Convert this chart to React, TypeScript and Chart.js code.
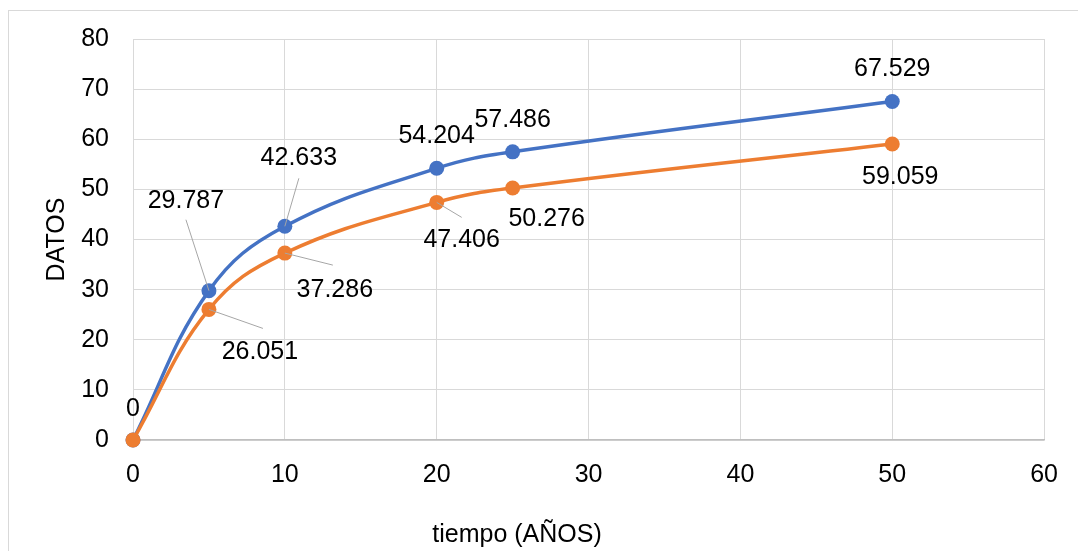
import React, { useEffect, useRef } from "react";
import { Chart, registerables } from "chart.js";

Chart.register(...registerables);

const xValues = [0, 5, 10, 20, 25, 50];
const blueValues = [0, 29.787, 42.633, 54.204, 57.486, 67.529];
const orangeValues = [0, 26.051, 37.286, 47.406, 50.276, 59.059];
const xAxisTitle = "tiempo (AÑOS)";
const yAxisTitle = "DATOS";

const BLUE = "#4472C4";
const ORANGE = "#ED7D31";
const FONT = "'Liberation Sans', Arial, sans-serif";
const FONT_SIZE = 25;

// label placement: [dx, dy] of text centre relative to the point, optional leader end [dx, dy]
type LabelPos = { off: [number, number]; leader?: [number, number] } | null;
const blueLabelPos: LabelPos[] = [
  { off: [0, -31] },
  { off: [-23, -90], leader: [-23, -71] },
  { off: [14, -68], leader: [14, -48] },
  { off: [0, -32] },
  { off: [0, -32] },
  { off: [0, -32] },
];
const orangeLabelPos: LabelPos[] = [
  null,
  { off: [51, 43], leader: [54, 19] },
  { off: [50, 37], leader: [48, 12] },
  { off: [25, 38], leader: [25, 15] },
  { off: [34, 31] },
  { off: [8, 33] },
];

const labelPlugin = {
  id: "customLabels",
  afterDatasetsDraw(chart: any) {
    const ctx = chart.ctx;
    const positions = [blueLabelPos, orangeLabelPos];
    ctx.save();
    chart.data.datasets.forEach((ds: any, di: number) => {
      const meta = chart.getDatasetMeta(di);
      meta.data.forEach((pt: any, i: number) => {
        const pos = positions[di][i];
        if (!pos) return;
        if (pos.leader) {
          ctx.strokeStyle = "#A6A6A6";
          ctx.lineWidth = 1;
          ctx.beginPath();
          ctx.moveTo(pt.x, pt.y);
          ctx.lineTo(pt.x + pos.leader[0], pt.y + pos.leader[1]);
          ctx.stroke();
        }
      });
    });
    chart.data.datasets.forEach((ds: any, di: number) => {
      const meta = chart.getDatasetMeta(di);
      meta.data.forEach((pt: any, i: number) => {
        const pos = positions[di][i];
        if (!pos) return;
        ctx.fillStyle = "#000000";
        ctx.font = `${FONT_SIZE}px ${FONT}`;
        ctx.textAlign = "center";
        ctx.textBaseline = "middle";
        ctx.fillText(String(ds.data[i].y), pt.x + pos.off[0], pt.y + pos.off[1]);
      });
    });
    // axis titles
    ctx.fillStyle = "#000000";
    ctx.font = `${FONT_SIZE}px ${FONT}`;
    ctx.textAlign = "center";
    ctx.textBaseline = "middle";
    ctx.fillText(xAxisTitle, 517, 535);
    ctx.save();
    ctx.translate(57, (chart.chartArea.top + chart.chartArea.bottom) / 2);
    ctx.rotate(-Math.PI / 2);
    ctx.fillText(yAxisTitle, 0, 0);
    ctx.restore();
    ctx.restore();
  },
};

export default function App() {
  const canvasRef = useRef<HTMLCanvasElement | null>(null);

  useEffect(() => {
    document.body.style.margin = "0";
    document.body.style.overflow = "hidden";
    const canvas = canvasRef.current!;
    const chart = new Chart(canvas, {
      type: "line",
      data: {
        datasets: [
          {
            label: "A",
            data: xValues.map((x, i) => ({ x, y: blueValues[i] })),
            borderColor: BLUE,
            backgroundColor: BLUE,
            borderWidth: 3.5,
            pointRadius: 7.5,
            pointHoverRadius: 7.5,
            pointBorderWidth: 0,
            tension: 0.4,
            clip: false,
            order: 1,
          },
          {
            label: "B",
            data: xValues.map((x, i) => ({ x, y: orangeValues[i] })),
            borderColor: ORANGE,
            backgroundColor: ORANGE,
            borderWidth: 3.5,
            pointRadius: 7.5,
            pointHoverRadius: 7.5,
            pointBorderWidth: 0,
            tension: 0.4,
            clip: false,
            order: 0,
          },
        ],
      },
      options: {
        animation: false,
        responsive: false,
        devicePixelRatio: 1,
        layout: { padding: { top: 39, right: 31, bottom: 0, left: 0 } },
        plugins: { legend: { display: false }, tooltip: { enabled: false } },
        scales: {
          x: {
            type: "linear",
            min: 0,
            max: 60,
            ticks: {
              stepSize: 10,
              color: "#000000",
              padding: 20,
              font: { family: FONT, size: FONT_SIZE },
            },
            grid: { color: "#D9D9D9", lineWidth: 1, drawTicks: false },
            border: { color: "#BFBFBF", width: 1.5 },
            afterFit: (s: any) => {
              s.height = 111;
            },
          },
          y: {
            type: "linear",
            min: 0,
            max: 80,
            ticks: {
              stepSize: 10,
              color: "#000000",
              padding: 24,
              font: { family: FONT, size: FONT_SIZE },
            },
            grid: { color: "#D9D9D9", lineWidth: 1, drawTicks: false },
            border: { color: "#D9D9D9", width: 1 },
            afterFit: (s: any) => {
              s.width = 133;
            },
          },
        },
      },
      plugins: [labelPlugin],
    });
    return () => chart.destroy();
  }, []);

  return (
    <div style={{ position: "fixed", left: 0, top: 0, width: 1078, height: 551, background: "#fff", overflow: "hidden" }}>
      <div
        style={{
          position: "absolute",
          left: 8,
          top: 10,
          width: 1200,
          height: 700,
          borderLeft: "1.5px solid #D9D9D9",
          borderTop: "1.5px solid #D9D9D9",
        }}
      />
      <canvas ref={canvasRef} width={1078} height={551} style={{ position: "absolute", left: 0, top: 0 }} />
    </div>
  );
}
